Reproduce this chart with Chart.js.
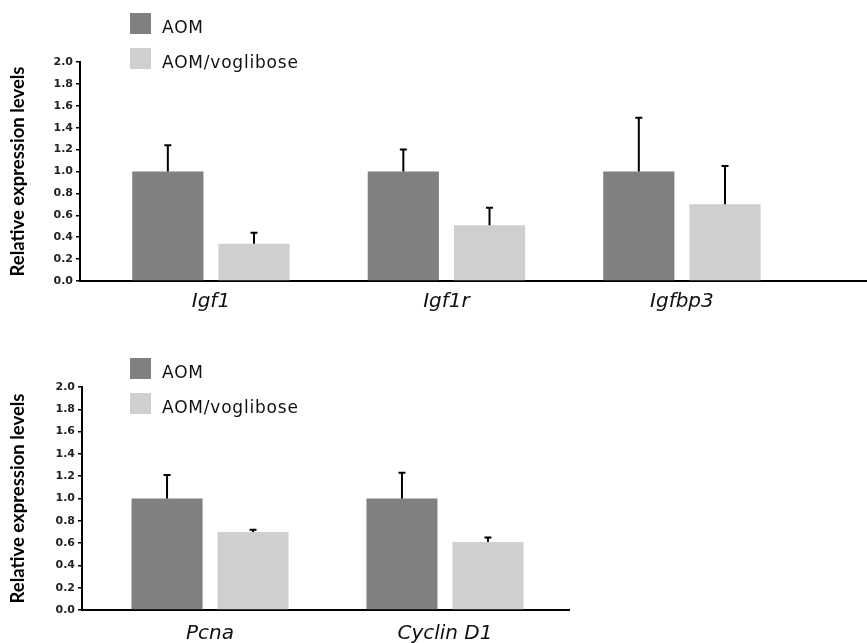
<!DOCTYPE html>
<html>
<head>
<meta charset="utf-8">
<script src="https://cdn.jsdelivr.net/npm/chart.js@4.4.1/dist/chart.umd.min.js"></script>
<style>
  body { margin: 0; background: #fff; width: 867px; height: 643px; position: relative; overflow: hidden; }
  canvas { position: absolute; left: 0; }
  #top-chart { top: 0; }
  #bottom-chart { top: 315px; }
  .legend { position: absolute; left: 130px; font-family: "DejaVu Sans", sans-serif; font-size: 17px; letter-spacing: 0.8px; color: #111; }
  .legend-item { position: relative; height: 35px; }
  .legend-item span.box { position: absolute; left: 0; top: 0; width: 21px; height: 21px; }
  .legend-item span.txt { position: absolute; left: 32px; top: 2px; line-height: 24px; white-space: nowrap; }
</style>
</head>
<body>
<canvas id="top-chart" width="867" height="330"></canvas>
<canvas id="bottom-chart" width="867" height="328"></canvas>
<div class="legend" id="legend-top" style="top:13px"></div>
<div class="legend" id="legend-bottom" style="top:358px"></div>
<script>
// Séries
const seriesNames = ['AOM', 'AOM/voglibose'];
const seriesColors = ['#808080', '#d0cfd0'];

// Painel superior
const topCategories = ['Igf1', 'Igf1r', 'Igfbp3'];
const topAom = [1.0, 1.0, 1.0];
const topAomErr = [0.24, 0.20, 0.49];
const topVog = [0.34, 0.51, 0.70];
const topVogErr = [0.10, 0.16, 0.35];

// Painel inferior
const bottomCategories = ['Pcna', 'Cyclin D1'];
const bottomAom = [1.0, 1.0];
const bottomAomErr = [0.21, 0.23];
const bottomVog = [0.70, 0.61];
const bottomVogErr = [0.02, 0.04];

const yTicks = [0, 0.2, 0.4, 0.6, 0.8, 1.0, 1.2, 1.4, 1.6, 1.8, 2.0];

// Barras de erro (só para cima)
const errorBars = {
    id: 'errorBars',
    afterDatasetsDraw(chart) {
        const ctx = chart.ctx;
        const yScale = chart.scales.y;
        ctx.save();
        ctx.strokeStyle = '#000';
        ctx.lineWidth = 2;
        chart.data.datasets.forEach((ds, di) => {
            const meta = chart.getDatasetMeta(di);
            meta.data.forEach((bar, i) => {
                const v = ds.data[i].y;
                const top = yScale.getPixelForValue(v + ds.errors[i]);
                ctx.beginPath();
                ctx.moveTo(bar.x, bar.y);
                ctx.lineTo(bar.x, top);
                ctx.moveTo(bar.x - 3.5, top);
                ctx.lineTo(bar.x + 3.5, top);
                ctx.stroke();
            });
        });
        ctx.restore();
    }
};

function criarGrafico(id, categorias, aom, aomErr, vog, vogErr, opts) {
    const ctx = document.getElementById(id).getContext('2d');
    const toPoints = arr => arr.map((v, i) => ({ x: i, y: v }));
    return new Chart(ctx, {
        type: 'bar',
        data: {
            datasets: [
                { label: seriesNames[0], data: toPoints(aom), errors: aomErr, backgroundColor: seriesColors[0] },
                { label: seriesNames[1], data: toPoints(vog), errors: vogErr, backgroundColor: seriesColors[1] }
            ]
        },
        options: {
            responsive: false,
            animation: false,
            categoryPercentage: 0.732,
            barPercentage: 0.826,
            layout: { padding: { top: opts.top, left: 0, right: opts.right, bottom: 0 } },
            plugins: { legend: { display: false }, tooltip: { enabled: false } },
            scales: {
                x: {
                    type: 'linear',
                    offset: false,
                    min: opts.xMin,
                    max: opts.xMax,
                    afterBuildTicks: s => { s.ticks = categorias.map((_, i) => ({ value: i })); },
                    afterFit: s => { s.height = opts.xHeight; },
                    grid: { display: false },
                    border: { display: true, color: '#000', width: 2 },
                    ticks: {
                        padding: opts.xPad,
                        color: '#111',
                        maxRotation: 0,
                        font: { family: "'DejaVu Sans', sans-serif", size: 20, style: 'italic' },
                        callback: v => categorias[v] ?? ''
                    }
                },
                y: {
                    min: 0,
                    max: 2,
                    afterBuildTicks: s => { s.ticks = yTicks.map(v => ({ value: v })); },
                    afterFit: s => { s.width = opts.yWidth; },
                    grid: { display: true, drawOnChartArea: false, drawTicks: true, tickLength: 4, color: '#000', lineWidth: 1.5 },
                    border: { display: true, color: '#000', width: 2 },
                    ticks: {
                        padding: 3,
                        color: '#222',
                        font: { family: "'DejaVu Sans', sans-serif", size: 11, weight: 'bold' },
                        callback: v => v.toFixed(1)
                    },
                    title: {
                        display: true,
                        text: 'Relative expression levels',
                        color: '#000',
                        padding: { top: 7, bottom: 0 },
                        font: { family: "Lato, sans-serif", size: 18.5, weight: 'bold' }
                    }
                }
            }
        },
        plugins: [errorBars]
    });
}

function criarLegenda(id) {
    const el = document.getElementById(id);
    seriesNames.forEach((nome, i) => {
        const item = document.createElement('div');
        item.className = 'legend-item';
        item.innerHTML = `<span class="box" style="background:${seriesColors[i]}"></span><span class="txt">${nome}</span>`;
        el.appendChild(item);
    });
}

criarGrafico('top-chart', topCategories, topAom, topAomErr, topVog, topVogErr,
    { top: 62, right: 0, xMin: -0.556, xMax: 2.786, xHeight: 49, yWidth: 80, xPad: 1 });
criarGrafico('bottom-chart', bottomCategories, bottomAom, bottomAomErr, bottomVog, bottomVogErr,
    { top: 72, right: 298, xMin: -0.545, xMax: 1.528, xHeight: 33, yWidth: 82, xPad: 4 });

criarLegenda('legend-top');
criarLegenda('legend-bottom');
</script>
</body>
</html>
